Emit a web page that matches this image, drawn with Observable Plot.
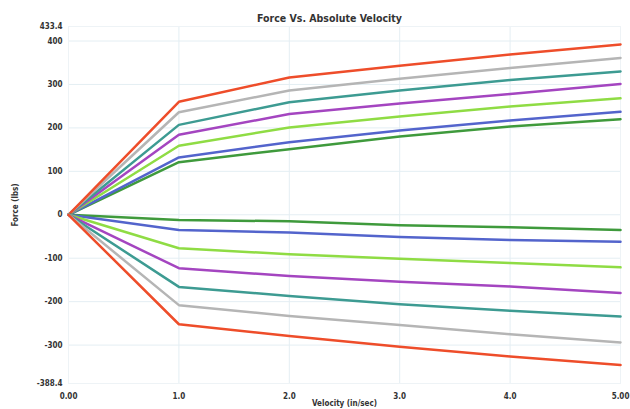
<!DOCTYPE html>
<html><head><meta charset="utf-8">
<script src="https://cdn.jsdelivr.net/npm/d3@7"></script>
<script src="https://cdn.jsdelivr.net/npm/@observablehq/plot@0.6"></script>
<style>body{margin:0;background:#fff}</style>
</head><body><div id="chart"></div>
<script>
const velocity = [0, 1, 2, 3, 4, 5];
const xTickLabels = ["0.00", "1.0", "2.0", "3.0", "4.0", "5.00"];
const yTicks = [-388.4, -300, -200, -100, 0, 100, 200, 300, 400, 433.4];
const yTickLabels = ["-388.4", "-300", "-200", "-100", "0", "100", "200", "300", "400", "433.4"];

const redUp     = [0, 260, 316, 343, 369, 392];
const grayUp    = [0, 236, 286, 313, 338, 361];
const tealUp    = [0, 207, 259, 286, 310, 330];
const purpleUp  = [0, 184, 232, 256, 278, 301];
const limeUp    = [0, 159, 201, 226, 249, 268];
const blueUp    = [0, 132, 167, 194, 217, 237];
const greenUp   = [0, 121, 151, 180, 203, 220];
const greenDown = [0, -12, -15, -24, -29, -35];
const blueDown  = [0, -35, -41, -51, -58, -62];
const limeDown  = [0, -77, -91, -101, -111, -121];
const purpleDown= [0, -123, -141, -154, -165, -180];
const tealDown  = [0, -166, -187, -206, -221, -234];
const grayDown  = [0, -208, -233, -254, -275, -294];
const redDown   = [0, -252, -279, -304, -326, -346];

const seriesList = [
  ["greenUp", greenUp, "#3f9a3c"], ["blueUp", blueUp, "#5364cc"], ["limeUp", limeUp, "#8fdc44"],
  ["purpleUp", purpleUp, "#a445c0"], ["tealUp", tealUp, "#3d9b92"], ["grayUp", grayUp, "#b5b5b5"],
  ["redUp", redUp, "#ee4d2a"],
  ["greenDown", greenDown, "#3f9a3c"], ["blueDown", blueDown, "#5364cc"], ["limeDown", limeDown, "#8fdc44"],
  ["purpleDown", purpleDown, "#a445c0"], ["tealDown", tealDown, "#3d9b92"], ["grayDown", grayDown, "#b5b5b5"],
  ["redDown", redDown, "#ee4d2a"]
];
const rows = seriesList.flatMap(([name, vals, color]) =>
  vals.map((v, i) => ({series: name, velocity: velocity[i], force: v, color})));

const font = "'Liberation Sans Narrow', 'DejaVu Sans Condensed', Arial, sans-serif";
const chart = Plot.plot({
  width: 630, height: 409,
  marginLeft: 68, marginRight: 10, marginTop: 26, marginBottom: 26,
  style: {fontFamily: font, fontSize: "8px", color: "#333", background: "#fff"},
  x: {domain: [0, 5]},
  y: {domain: [-388.4, 433.4]},
  color: {type: "identity"},
  marks: [
    Plot.ruleY(yTicks.filter(d => Math.abs(d) <= 400), {stroke: "#e4eef3", strokeWidth: 1}),
    Plot.ruleX(velocity, {stroke: "#e4eef3", strokeWidth: 1}),
    Plot.frame({stroke: "#eef3f6"}),
    Plot.axisY({ticks: yTicks, tickFormat: (d) => yTickLabels[yTicks.indexOf(d)], tickSize: 0, tickPadding: 6,
      label: "Force (lbs)", labelAnchor: "center", labelArrow: "none", labelOffset: 56, fontWeight: "bold"}),
    Plot.axisX({ticks: velocity, tickFormat: (d) => xTickLabels[velocity.indexOf(d)], tickSize: 0, tickPadding: 10,
      label: "Velocity (in/sec)", labelAnchor: "center", labelArrow: "none", labelOffset: 22, fontWeight: "bold"}),
    Plot.line(rows, {x: "velocity", y: "force", z: "series", stroke: "color", strokeWidth: 2.5}),
    Plot.text(["Force Vs. Absolute Velocity"], {frameAnchor: "top", dy: -12, dx: -15, fontWeight: "bold", fontSize: 10.5, fill: "#333"})
  ]
});
document.getElementById("chart").appendChild(chart);
</script>
</body></html>
